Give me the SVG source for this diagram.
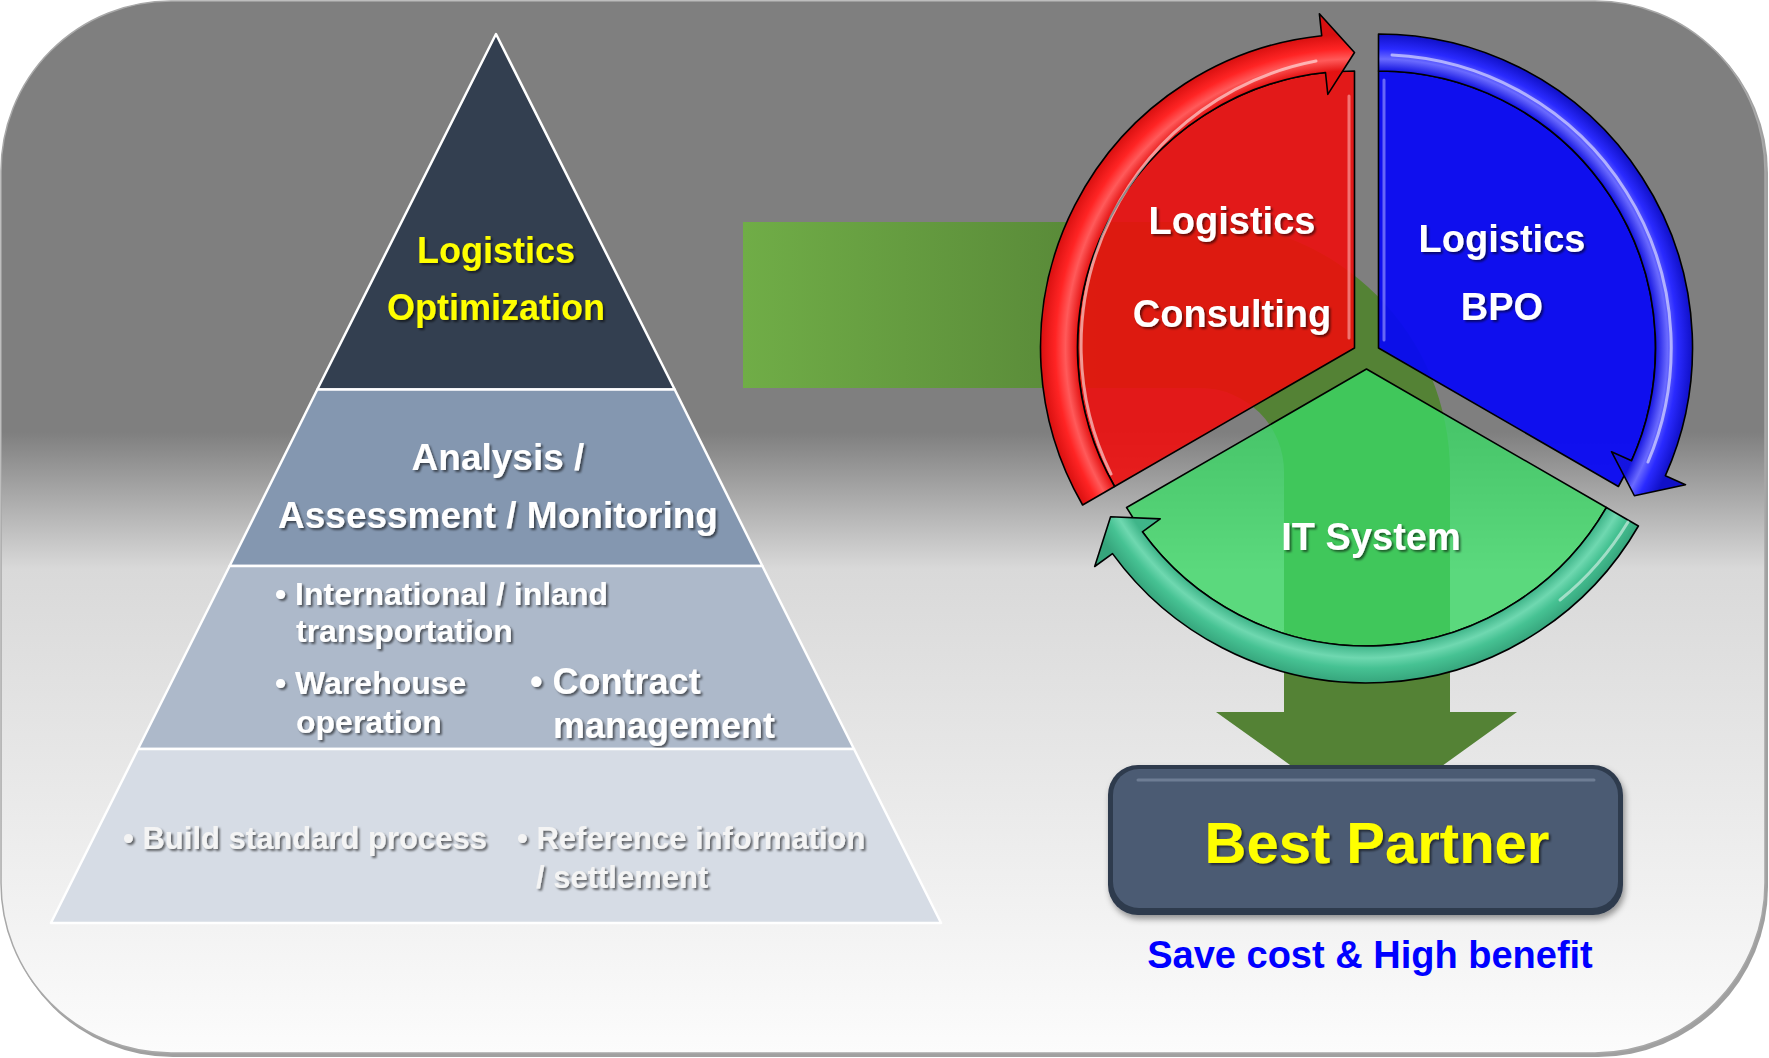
<svg xmlns="http://www.w3.org/2000/svg" width="1769" height="1058" viewBox="0 0 1769 1058">
<defs>
<style>
.t{font-family:"Liberation Sans",Arial,sans-serif;font-weight:bold}
.c{text-anchor:middle}
.w{fill:#ffffff}
.y{fill:#ffff00}
.lt{fill:#f4f4f4}
.sh{filter:url(#ts)}
.tier{stroke:#ffffff;stroke-width:2.5;stroke-linejoin:round}
.ol{stroke:#000000;stroke-width:1.6;stroke-linejoin:round}
.hl{fill:none;stroke:#ffffff;stroke-width:3;stroke-linecap:round}
</style>
<linearGradient id="bg" x1="0" y1="0" x2="0" y2="1">
<stop offset="0" stop-color="#7f7f7f"/>
<stop offset="0.41" stop-color="#7f7f7f"/>
<stop offset="0.54" stop-color="#d9d9d9"/>
<stop offset="1" stop-color="#fcfcfc"/>
</linearGradient>
<linearGradient id="ga" gradientUnits="userSpaceOnUse" x1="743" y1="0" x2="1150" y2="0">
<stop offset="0" stop-color="#70ad47"/>
<stop offset="1" stop-color="#548235"/>
</linearGradient>
<radialGradient id="rb" gradientUnits="userSpaceOnUse" cx="1354.5" cy="348" r="340">
<stop offset="0" stop-color="#f01515"/>
<stop offset="0.815" stop-color="#e41212"/>
<stop offset="0.85" stop-color="#ff5a5a"/>
<stop offset="0.88" stop-color="#ff2424"/>
<stop offset="0.9235" stop-color="#d81010"/>
<stop offset="1" stop-color="#d81010"/>
</radialGradient>
<radialGradient id="bb" gradientUnits="userSpaceOnUse" cx="1378.5" cy="348" r="340">
<stop offset="0" stop-color="#1a1af0"/>
<stop offset="0.815" stop-color="#1414e0"/>
<stop offset="0.85" stop-color="#6a6aff"/>
<stop offset="0.88" stop-color="#2a2aff"/>
<stop offset="0.9235" stop-color="#1010c8"/>
<stop offset="1" stop-color="#1010c8"/>
</radialGradient>
<radialGradient id="gb" gradientUnits="userSpaceOnUse" cx="1366.5" cy="369" r="340">
<stop offset="0" stop-color="#44bb8e"/>
<stop offset="0.815" stop-color="#3fb589"/>
<stop offset="0.85" stop-color="#6fd8b0"/>
<stop offset="0.88" stop-color="#46c293"/>
<stop offset="0.9235" stop-color="#36a57c"/>
<stop offset="1" stop-color="#36a57c"/>
</radialGradient>
<filter id="ts" x="-10%" y="-30%" width="120%" height="160%">
<feDropShadow dx="2" dy="2" stdDeviation="1.3" flood-color="#000000" flood-opacity="0.55"/>
</filter>
<filter id="bs" x="-10%" y="-20%" width="120%" height="140%">
<feDropShadow dx="2" dy="4" stdDeviation="3" flood-color="#000000" flood-opacity="0.4"/>
</filter>
</defs>

<g id="background">
<rect x="3" y="3" width="1765" height="1054" rx="170" ry="170" fill="#a0a0a0"/>
<rect x="1" y="1" width="1764" height="1052" rx="170" ry="170" fill="url(#bg)" stroke="#a8a8a8" stroke-width="1.5"/>
</g>

<g id="pyramid">
<g id="tier-optimization">
<polygon class="tier" points="496,34 674.7,389.5 317.3,389.5" fill="#333f50"/>
<text class="t c y sh" x="496" y="263" font-size="36">Logistics</text>
<text class="t c y sh" x="496" y="320" font-size="36">Optimization</text>
</g>
<g id="tier-analysis">
<polygon class="tier" points="317.3,389.5 674.7,389.5 762.4,566 229.6,566" fill="#8497b0"/>
<text class="t c w sh" x="498" y="470" font-size="37">Analysis /</text>
<text class="t c w sh" x="498" y="528" font-size="37">Assessment / Monitoring</text>
</g>
<g id="tier-operation">
<polygon class="tier" points="229.6,566 762.4,566 854,749 138,749" fill="#adb9ca"/>
<text class="t w sh" x="275" y="605" font-size="32">• International / inland</text>
<text class="t w sh" x="296" y="642" font-size="32">transportation</text>
<text class="t w sh" x="275" y="694" font-size="32">• Warehouse</text>
<text class="t w sh" x="296" y="733" font-size="32">operation</text>
<text class="t w sh" x="530" y="694" font-size="36">• Contract</text>
<text class="t w sh" x="553" y="738" font-size="36">management</text>
</g>
<g id="tier-base">
<polygon class="tier" points="138,749 854,749 941.1,923 50.9,923" fill="#d6dce5"/>
<text class="t lt sh" x="123" y="849" font-size="31">• Build standard process</text>
<text class="t lt sh" x="517" y="849" font-size="31">• Reference information</text>
<text class="t lt sh" x="536" y="888" font-size="31">/ settlement</text>
</g>
</g>

<g id="connectors">
<path id="flow-arrow" d="M743,222 L1200,222 A250,250 0 0 1 1450,472 L1450,712 L1517,712 L1367,820 L1216,712 L1284,712 L1284,472 A84,84 0 0 0 1200,388 L743,388 Z" fill="url(#ga)"/>
</g>

<g id="wheel">
<g id="logistics-consulting">
<path class="ol" d="M1354.5,348 L1114.6,486.5 A277,277 0 0 1 1354.5,71 Z" fill="#f10a0a" fill-opacity="0.87"/>
<path d="M1349,96 L1349,338" stroke="#ffb0b0" stroke-width="3" stroke-linecap="round" opacity="0.6"/>
<path class="ol" d="M1082.6,505 A314,314 0 0 1 1321.7,35.7 L1319.4,13.8 L1354.5,52.5 L1327.8,94.4 L1325.5,72.5 A277,277 0 0 0 1114.6,486.5 Z" fill="url(#rb)"/>
<path class="hl" d="M1111,474 A290,290 0 0 1 1316,61" opacity="0.55"/>
<text class="t c w sh" x="1232" y="234" font-size="38">Logistics</text>
<text class="t c w sh" x="1232" y="327" font-size="38">Consulting</text>
</g>
<g id="logistics-bpo">
<path class="ol" d="M1378.5,348 L1378.5,71 A277,277 0 0 1 1618.4,486.5 Z" fill="#0606f6" fill-opacity="0.93"/>
<path d="M1384,80 L1384,340" stroke="#a0a0ff" stroke-width="3" stroke-linecap="round" opacity="0.6"/>
<path class="ol" d="M1378.5,34 A314,314 0 0 1 1665.4,475.7 L1685.5,484.7 L1634.4,495.75 L1611.5,451.7 L1631.6,460.7 A277,277 0 0 0 1378.5,71 Z" fill="url(#bb)"/>
<path class="hl" d="M1392,55 A293,293 0 0 1 1648,462" opacity="0.55"/>
<text class="t c w sh" x="1502" y="252" font-size="38">Logistics</text>
<text class="t c w sh" x="1502" y="320" font-size="38">BPO</text>
</g>
<g id="it-system">
<path class="ol" d="M1366.5,369 L1606.4,507.5 A277,277 0 0 1 1126.6,507.5 Z" fill="#3bd865" fill-opacity="0.8"/>
<path class="ol" d="M1638.4,526 A314,314 0 0 1 1112.5,553.6 L1094.7,566.5 L1110.6,516.75 L1160.2,518.9 L1142.4,531.8 A277,277 0 0 0 1606.4,507.5 Z" fill="url(#gb)"/>
<path class="hl" d="M1628,522 A300,300 0 0 1 1560,600" opacity="0.5"/>
<text class="t c w sh" x="1371" y="550" font-size="38">IT System</text>
</g>
</g>

<g id="best-partner">
<rect x="1108" y="765" width="515" height="150" rx="30" ry="30" fill="#2f3b4d" filter="url(#bs)"/>
<rect x="1113" y="769" width="505" height="139" rx="26" ry="26" fill="#4b5b73"/>
<path d="M1138,780 L1594,780" stroke="#7d8ca3" stroke-width="3" stroke-linecap="round" opacity="0.7"/>
<text class="t c y sh" x="1377" y="863" font-size="58">Best Partner</text>
</g>

<g id="caption">
<text class="t c" x="1370" y="968" font-size="38" fill="#0000ff">Save cost &amp; High benefit</text>
</g>
</svg>
